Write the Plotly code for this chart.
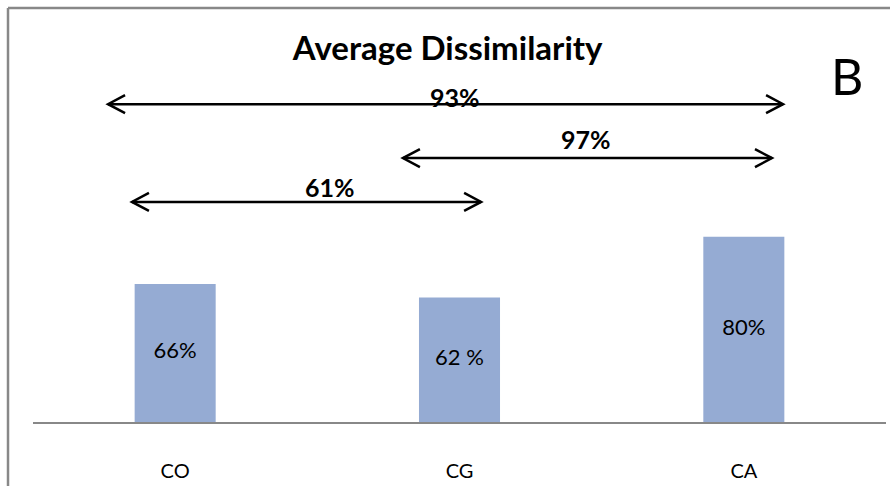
import plotly.graph_objects as go

# Bar data
categories = ["CO", "CG", "CA"]
values = [66, 62, 80]
bar_labels = ["66%", "62 %", "80%"]

# Pairwise dissimilarity brackets: start/end along the category axis,
# label text and label position
pair_labels = ["93%", "97%", "61%"]
pair_start = [-0.236, 0.801, -0.152]
pair_end = [2.138, 2.099, 1.076]
pair_level = [0.878, 0.729, 0.608]
pair_label_x = [0.984, 1.445, 0.545]
pair_label_y = [0.898, 0.782, 0.649]

FONT = "Lato, 'Open Sans', sans-serif"
BAR_COLOR = "#95ABD3"
FRAME_COLOR = "#888888"
Y_MIN, Y_MAX = 25, 132.5

fig = go.Figure()
fig.add_trace(
    go.Bar(
        x=categories,
        y=values,
        marker=dict(color=BAR_COLOR, line=dict(width=0)),
        width=0.285,
        hoverinfo="skip",
    )
)

# Value labels centred in the visible part of each bar
fig.add_trace(
    go.Scatter(
        x=categories,
        y=[(Y_MIN + v) / 2 for v in values],
        text=bar_labels,
        mode="text",
        textposition="middle center",
        textfont=dict(family=FONT, size=22, color="black"),
        hoverinfo="skip",
        cliponaxis=False,
    )
)

shapes = []
annotations = []

# Double-headed brackets with open chevron heads
head = 17
half = 9
for x0, x1, lvl, lab, lx, ly in zip(pair_start, pair_end, pair_level,
                                    pair_labels, pair_label_x, pair_label_y):
    shapes.append(dict(type="line", xref="x", yref="paper",
                       x0=x0, x1=x1, y0=lvl, y1=lvl,
                       line=dict(color="black", width=2.5)))
    shapes.append(dict(type="path", xref="x", yref="paper",
                       xsizemode="pixel", ysizemode="pixel",
                       xanchor=x0, yanchor=lvl,
                       path=f"M {head},{half} L 0,0 L {head},{-half}",
                       line=dict(color="black", width=2.5)))
    shapes.append(dict(type="path", xref="x", yref="paper",
                       xsizemode="pixel", ysizemode="pixel",
                       xanchor=x1, yanchor=lvl,
                       path=f"M {-head},{half} L 0,0 L {-head},{-half}",
                       line=dict(color="black", width=2.5)))
    annotations.append(dict(xref="x", yref="paper", x=lx, y=ly,
                            text=f"<b>{lab}</b>", showarrow=False,
                            font=dict(family=FONT, size=25, color="black"),
                            xanchor="center", yanchor="middle"))

# Panel letter
annotations.append(dict(xref="paper", yref="paper", x=0.954, y=0.956,
                        text="B", showarrow=False,
                        font=dict(family=FONT, size=50, color="black"),
                        xanchor="center", yanchor="middle"))

# Outer frame (left and top edges visible)
shapes.append(dict(type="line", xref="paper", yref="paper",
                   x0=-0.0293, x1=-0.0293, y0=1.1436, y1=-0.2,
                   line=dict(color=FRAME_COLOR, width=2.5)))
shapes.append(dict(type="line", xref="paper", yref="paper",
                   x0=-0.0293, x1=1.02, y0=1.1436, y1=1.1436,
                   line=dict(color=FRAME_COLOR, width=2.5)))

fig.update_layout(
    width=890,
    height=486,
    margin=dict(l=33, r=4, t=60, b=64),
    paper_bgcolor="white",
    plot_bgcolor="white",
    showlegend=False,
    title=dict(text="<b>Average Dissimilarity</b>", x=0.503, xanchor="center",
               y=0.901, yanchor="middle",
               font=dict(family=FONT, size=33, color="black")),
    xaxis=dict(range=[-0.5, 2.5], showline=True, linecolor=FRAME_COLOR,
               linewidth=2, showgrid=False, zeroline=False, ticks="",
               ticklabelstandoff=30,
               tickfont=dict(family=FONT, size=20, color="black"),
               fixedrange=True),
    yaxis=dict(range=[Y_MIN, Y_MAX], visible=False, fixedrange=True),
    shapes=shapes,
    annotations=annotations,
)

fig.write_html("out.html")
